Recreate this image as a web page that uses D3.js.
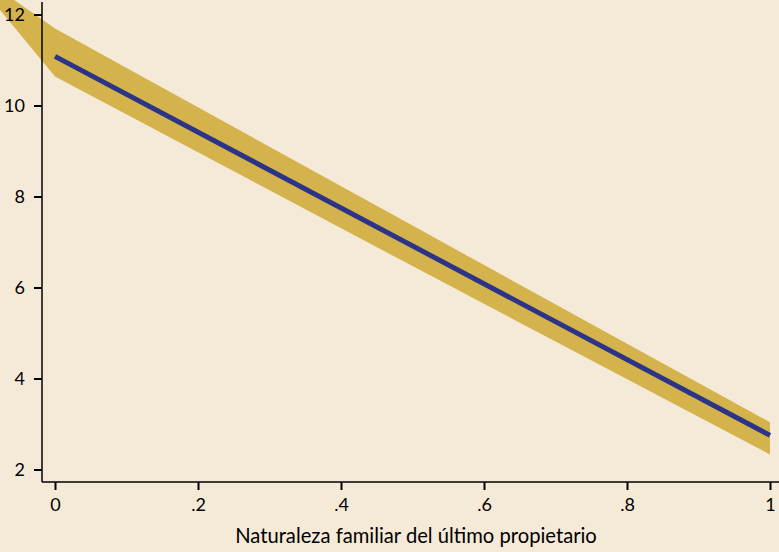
<!DOCTYPE html>
<html>
<head>
<meta charset="utf-8">
<script src="https://cdn.jsdelivr.net/npm/d3@7"></script>
<style>
  html, body { margin: 0; padding: 0; background: #f5ead7; }
  svg { display: block; }
  text { font-family: Lato, "Open Sans", sans-serif; fill: #000; }
</style>
</head>
<body>
<svg id="chart" width="779" height="552"></svg>
<script>
// Data
const bandX     = [-0.08, 0, 0.5, 1];
const bandUpper = [12.57, 11.69, 7.36, 3.04];
const bandLower = [12.16, 10.64, 6.47, 2.33];
const lineX     = [0, 1];
const lineY     = [11.08, 2.75];
const xTicks    = [0, 0.2, 0.4, 0.6, 0.8, 1];
const xTickLabels = ["0", ".2", ".4", ".6", ".8", "1"];
const yTicks    = [2, 4, 6, 8, 10, 12];
const xTitle    = "Naturaleza familiar del último propietario";

const W = 779, H = 552;
const svg = d3.select("#chart");

const x = d3.scaleLinear().domain([0, 1]).range([55, 770]);
const y = d3.scaleLinear().domain([2, 12]).range([469.5, 14.5]);

svg.append("rect").attr("width", W).attr("height", H).attr("fill", "#f5ead7");

const bandData = bandX.map((v, i) => ({x: v, lo: bandLower[i], hi: bandUpper[i]}));
svg.append("path")
  .datum(bandData)
  .attr("fill", "#d4b24c")
  .attr("d", d3.area().x(d => x(d.x)).y0(d => y(d.lo)).y1(d => y(d.hi)));

const lineData = lineX.map((v, i) => ({x: v, y: lineY[i]}));
svg.append("path")
  .datum(lineData)
  .attr("fill", "none")
  .attr("stroke", "#2b3487")
  .attr("stroke-width", 5)
  .attr("d", d3.line().x(d => x(d.x)).y(d => y(d.y)));

// Axes
const axisX = 42, axisY = 482;
const yAxis = d3.axisLeft(y).tickValues(yTicks).tickSize(8).tickPadding(9).tickFormat(d3.format("d"));
const gy = svg.append("g").attr("transform", `translate(${axisX},0)`).call(yAxis);
gy.select(".domain").remove();
gy.selectAll(".tick line").attr("stroke", "#000").attr("stroke-width", 2);
gy.selectAll("text").style("font-size", "18px").attr("fill", "#000");

const xAxis = d3.axisBottom(x).tickValues(xTicks).tickSize(8).tickPadding(8)
  .tickFormat((d, i) => xTickLabels[i]);
const gx = svg.append("g").attr("transform", `translate(0,${axisY})`).call(xAxis);
gx.select(".domain").remove();
gx.selectAll(".tick line").attr("stroke", "#000").attr("stroke-width", 2);
gx.selectAll("text").style("font-size", "18px").attr("fill", "#000");

svg.append("line").attr("x1", axisX).attr("x2", axisX).attr("y1", 2).attr("y2", axisY)
  .attr("stroke", "#000").attr("stroke-width", 1.5);
svg.append("line").attr("x1", axisX).attr("x2", W).attr("y1", axisY).attr("y2", axisY)
  .attr("stroke", "#000").attr("stroke-width", 1.5);

svg.append("text")
  .attr("x", 416).attr("y", 543)
  .attr("text-anchor", "middle")
  .style("font-size", "20.2px")
  .text(xTitle);
</script>
</body>
</html>
